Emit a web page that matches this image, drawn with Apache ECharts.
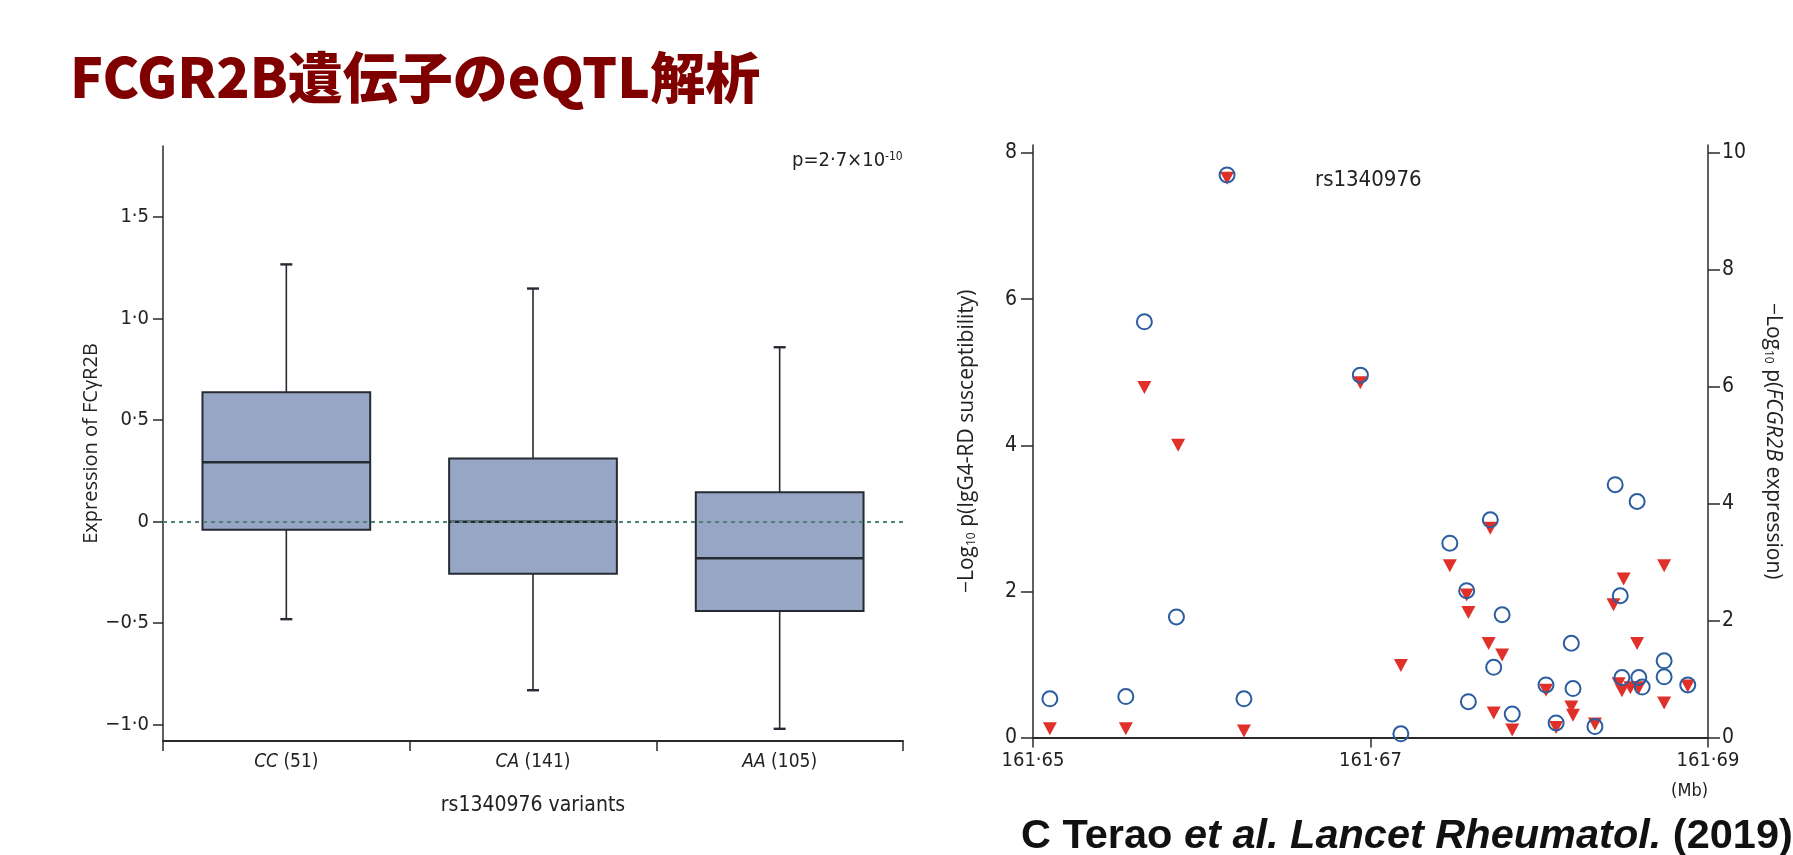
<!DOCTYPE html>
<html><head><meta charset="utf-8">
<script src="https://cdn.jsdelivr.net/npm/echarts@6/dist/echarts.min.js"></script>
<style>html,body{margin:0;padding:0;background:#fff}#c{width:1793px;height:855px}</style>
</head><body><div id="c"></div>
<script>
// ---------- DATA ----------
const titleText = 'FCGR2B遺伝子のeQTL解析';
const citeAuthor = 'C Terao ';
const citeEtAl = 'et al.';
const citeJournal = 'Lancet Rheumatol.';
const citeYear = ' (2019)';

// Box plot (left panel)
const boxCategories = ['CC (51)', 'CA (141)', 'AA (105)'];
const boxMin    = [-0.48, -0.83, -1.02];
const boxQ1     = [-0.04, -0.257, -0.44];
const boxMedian = [0.293, 0.0, -0.18];
const boxQ3     = [0.637, 0.311, 0.145];
const boxMax    = [1.267, 1.148, 0.859];
const boxYTicks = [-1.0, -0.5, 0, 0.5, 1.0, 1.5];
const boxXName = 'rs1340976 variants';
const boxYName = 'Expression of FCγR2B';
const pValueText = 'p=2·7×10';
const pValueExp = '-10';

// Scatter (right panel)
const posTicks = [161.65, 161.67, 161.69];
const suscTicks = [0, 2, 4, 6, 8];
const eqtlTicks = [0, 2, 4, 6, 8, 10];
// IgG4-RD susceptibility (-log10 p), blue open circles, left axis
const circlePos = [161.6510, 161.6555, 161.6566, 161.6585, 161.6615, 161.6625, 161.6694, 161.6718,
  161.6747, 161.6757, 161.6758, 161.6771, 161.6773, 161.6778, 161.6784, 161.6804, 161.6810, 161.6819,
  161.6820, 161.6833, 161.6845, 161.6848, 161.6849, 161.6858, 161.6859, 161.6861, 161.6874, 161.6874, 161.6888];
const circleP = [0.53, 0.56, 5.69, 1.65, 7.70, 0.53, 4.96, 0.05,
  2.66, 2.01, 0.49, 2.98, 0.96, 1.68, 0.32, 0.72, 0.20, 1.29,
  0.67, 0.15, 3.46, 1.94, 0.82, 3.23, 0.82, 0.69, 1.05, 0.83, 0.72];
// FCGR2B expression (-log10 p), red triangles, right axis
const trianglePos = [161.6510, 161.6555, 161.6566, 161.6586, 161.6615, 161.6625, 161.6694, 161.6718,
  161.6747, 161.6757, 161.6758, 161.6770, 161.6771, 161.6773, 161.6778, 161.6784, 161.6804, 161.6810,
  161.6819, 161.6820, 161.6833, 161.6844, 161.6847, 161.6849, 161.6850, 161.6854, 161.6858, 161.6859,
  161.6874, 161.6874, 161.6888];
const triangleP = [0.15, 0.15, 5.99, 5.00, 9.57, 0.11, 6.07, 1.23,
  2.94, 2.44, 2.14, 1.61, 3.58, 0.42, 1.41, 0.13, 0.81, 0.17,
  0.52, 0.38, 0.23, 2.27, 0.92, 0.80, 2.71, 0.85, 1.61, 0.85,
  2.94, 0.59, 0.88];
const leadSnp = 'rs1340976';
const suscName = ['−Log', '10', ' p(IgG4-RD susceptibility)'];
const eqtlName = ['−Log', '10', ' p(', 'FCGR2B', ' expression)'];
const unitText = '(Mb)';

// ---------- CHART ----------
const narrow = "'Liberation Sans Narrow','DejaVu Sans Condensed','Open Sans',sans-serif";
const sans = "'Open Sans','Noto Sans',sans-serif";
const axisCol = '#2a2a2a';
const fmtNum = v => {
  const s = (Math.abs(v) < 1e-9) ? '0' : v.toFixed(1);
  return s.replace('.', '·').replace('-', '−');
};

function renderBox(params, api) {
  const i = api.value(0);
  const mn = api.coord([i, api.value(1)]);
  const q1 = api.coord([i, api.value(2)]);
  const md = api.coord([i, api.value(3)]);
  const q3 = api.coord([i, api.value(4)]);
  const mx = api.coord([i, api.value(5)]);
  const bw = api.size([1, 0])[0] * 0.68;
  const cx = mn[0];
  const cap = 6;
  const dark = '#262a33';
  return {
    type: 'group',
    children: [
      {type: 'line', shape: {x1: cx, y1: q3[1], x2: cx, y2: mx[1]}, style: {stroke: dark, lineWidth: 1.6}},
      {type: 'line', shape: {x1: cx - cap, y1: mx[1], x2: cx + cap, y2: mx[1]}, style: {stroke: dark, lineWidth: 2.4}},
      {type: 'line', shape: {x1: cx, y1: q1[1], x2: cx, y2: mn[1]}, style: {stroke: dark, lineWidth: 1.6}},
      {type: 'line', shape: {x1: cx - cap, y1: mn[1], x2: cx + cap, y2: mn[1]}, style: {stroke: dark, lineWidth: 2.4}},
      {type: 'rect', shape: {x: cx - bw / 2, y: q3[1], width: bw, height: q1[1] - q3[1]},
        style: {fill: '#98a6c5', stroke: dark, lineWidth: 2}},
      {type: 'line', shape: {x1: cx - bw / 2, y1: md[1], x2: cx + bw / 2, y2: md[1]}, style: {stroke: dark, lineWidth: 2.4}}
    ]
  };
}

const boxData = boxCategories.map((c, i) => [i, boxMin[i], boxQ1[i], boxMedian[i], boxQ3[i], boxMax[i]]);
const circleData = circlePos.map((x, i) => [x, circleP[i]]);
const triangleData = trianglePos.map((x, i) => [x, triangleP[i]]);

const suscMax = 8.11;
const eqtlMax = suscMax * 10 / 8;

const chart = echarts.init(document.getElementById('c'), null, {renderer: 'canvas'});
chart.setOption({
  backgroundColor: '#ffffff',
  animation: false,
  grid: [
    {left: 163, right: 890, top: 146, bottom: 114},
    {left: 1033, right: 85, top: 145, bottom: 117.5}
  ],
  xAxis: [
    {
      gridIndex: 0, type: 'category', data: boxCategories, boundaryGap: true,
      axisLine: {onZero: false, lineStyle: {color: axisCol, width: 2}},
      axisTick: {show: true, length: 10, inside: false, lineStyle: {color: axisCol, width: 1.5}},
      axisLabel: {
        margin: 12, color: '#222',
        formatter: v => { const p = v.split(' '); return '{i|' + p[0] + '} ' + p[1]; },
        fontFamily: narrow, fontSize: 19,
        rich: {i: {fontStyle: 'italic', fontFamily: narrow, fontSize: 19, color: '#222'}}
      },
      name: boxXName, nameLocation: 'middle', nameGap: 54,
      nameTextStyle: {fontFamily: narrow, fontSize: 21, color: '#222'},
      splitLine: {show: false}
    },
    {
      gridIndex: 1, type: 'value', min: 161.65, max: 161.69,
      axisLine: {onZero: false, lineStyle: {color: axisCol, width: 2}},
      axisTick: {show: true, length: 10, customValues: posTicks, lineStyle: {color: axisCol, width: 1.5}},
      axisLabel: {
        customValues: posTicks, margin: 13, color: '#222', fontFamily: narrow, fontSize: 20,
        formatter: v => v.toFixed(2).replace('.', '·')
      },
      splitLine: {show: false}
    }
  ],
  yAxis: [
    {
      gridIndex: 0, type: 'value', min: -1.08, max: 1.85,
      axisLine: {show: true, lineStyle: {color: axisCol, width: 1.5}},
      axisTick: {show: true, length: 10, customValues: boxYTicks, lineStyle: {color: axisCol, width: 1.5}},
      axisLabel: {customValues: boxYTicks, margin: 14, color: '#222', fontFamily: narrow, fontSize: 20, formatter: fmtNum},
      splitLine: {show: false},
      name: boxYName, nameLocation: 'middle', nameGap: 58, nameRotate: 90,
      nameTextStyle: {fontFamily: sans, fontSize: 20, color: '#222'}
    },
    {
      gridIndex: 1, type: 'value', min: 0, max: suscMax, position: 'left',
      axisLine: {show: true, lineStyle: {color: axisCol, width: 1.5}},
      axisTick: {show: true, length: 12, customValues: suscTicks, lineStyle: {color: axisCol, width: 1.5}},
      axisLabel: {customValues: suscTicks, margin: 16, color: '#222', fontFamily: narrow, fontSize: 21},
      splitLine: {show: false},
      name: '{a|' + suscName[0] + '}{s|' + suscName[1] + '}{a|' + suscName[2] + '}',
      nameLocation: 'middle', nameGap: 55, nameRotate: 90,
      nameTextStyle: {fontFamily: sans, fontSize: 21, color: '#222',
        rich: {a: {fontFamily: sans, fontSize: 21, color: '#222'},
               s: {fontFamily: sans, fontSize: 12, color: '#222', verticalAlign: 'bottom', padding: [7, 0, 0, 0]}}}
    },
    {
      gridIndex: 1, type: 'value', min: 0, max: eqtlMax, position: 'right',
      axisLine: {show: true, lineStyle: {color: axisCol, width: 1.5}},
      axisTick: {show: true, length: 12, customValues: eqtlTicks, lineStyle: {color: axisCol, width: 1.5}},
      axisLabel: {customValues: eqtlTicks, margin: 14, color: '#222', fontFamily: narrow, fontSize: 21},
      splitLine: {show: false},
      name: '{a|' + eqtlName[0] + '}{s|' + eqtlName[1] + '}{a|' + eqtlName[2] + '}{i|' + eqtlName[3] + '}{a|' + eqtlName[4] + '}',
      nameLocation: 'middle', nameGap: 54, nameRotate: -90,
      nameTextStyle: {fontFamily: sans, fontSize: 21, color: '#222',
        rich: {a: {fontFamily: sans, fontSize: 21, color: '#222'},
               i: {fontFamily: sans, fontSize: 21, fontStyle: 'italic', color: '#222'},
               s: {fontFamily: sans, fontSize: 12, color: '#222', verticalAlign: 'bottom', padding: [7, 0, 0, 0]}}}
    }
  ],
  series: [
    {
      type: 'line', xAxisIndex: 0, yAxisIndex: 0, data: [], z: 1, silent: true,
      markLine: {
        silent: true, symbol: ['none', 'none'], label: {show: false},
        lineStyle: {color: '#4f8374', type: [4, 4], width: 1.8},
        data: [{yAxis: 0}]
      }
    },
    {
      type: 'custom', xAxisIndex: 0, yAxisIndex: 0, renderItem: renderBox, z: 3,
      encode: {x: 0, y: [1, 2, 3, 4, 5]}, data: boxData
    },
    {
      type: 'scatter', xAxisIndex: 1, yAxisIndex: 2, data: triangleData, z: 3,
      symbol: 'triangle', symbolRotate: 180, symbolSize: [14, 13],
      itemStyle: {color: '#e0302a', opacity: 1}
    },
    {
      type: 'scatter', xAxisIndex: 1, yAxisIndex: 1, data: circleData, z: 4,
      symbol: 'circle', symbolSize: 15,
      itemStyle: {color: 'rgba(255,255,255,0)', borderColor: '#2b5d9f', borderWidth: 2, opacity: 1}
    }
  ],
  graphic: [
    {type: 'text', x: 70, y: 77, style: {text: titleText, fontSize: 55, fontWeight: 900,
      fontFamily: "'Noto Sans CJK JP',sans-serif", fill: '#800000', verticalAlign: 'middle'}},
    {type: 'text', x: 792, y: 161, style: {
      text: pValueText + '{s|' + pValueExp + '}', fontSize: 20, fontFamily: narrow, fill: '#222',
      verticalAlign: 'middle', rich: {s: {fontSize: 12, fontFamily: narrow, fill: '#222', verticalAlign: 'top', padding: [0, 0, 8, 0]}}}},
    {type: 'text', x: 1315, y: 180, style: {text: leadSnp, fontSize: 22, fontFamily: narrow, fill: '#222', verticalAlign: 'middle'}},
    {type: 'text', x: 1708, y: 791, style: {text: unitText, fontSize: 18, fontFamily: narrow, fill: '#222', align: 'right', verticalAlign: 'middle'}},
    {type: 'text', x: 1021, y: 837, style: {
      text: '{b|' + citeAuthor + '}{it|' + citeEtAl + '}{b| }{it|' + citeJournal + '}{b|' + citeYear + '}',
      verticalAlign: 'middle',
      rich: {
        b: {fontSize: 41.5, fontWeight: 'bold', fontFamily: "'Liberation Sans',Arial,sans-serif", fill: '#111'},
        it: {fontSize: 41.5, fontWeight: 'bold', fontStyle: 'italic', fontFamily: "'Liberation Sans',Arial,sans-serif", fill: '#111'}
      }}}
  ]
});
</script></body></html>
